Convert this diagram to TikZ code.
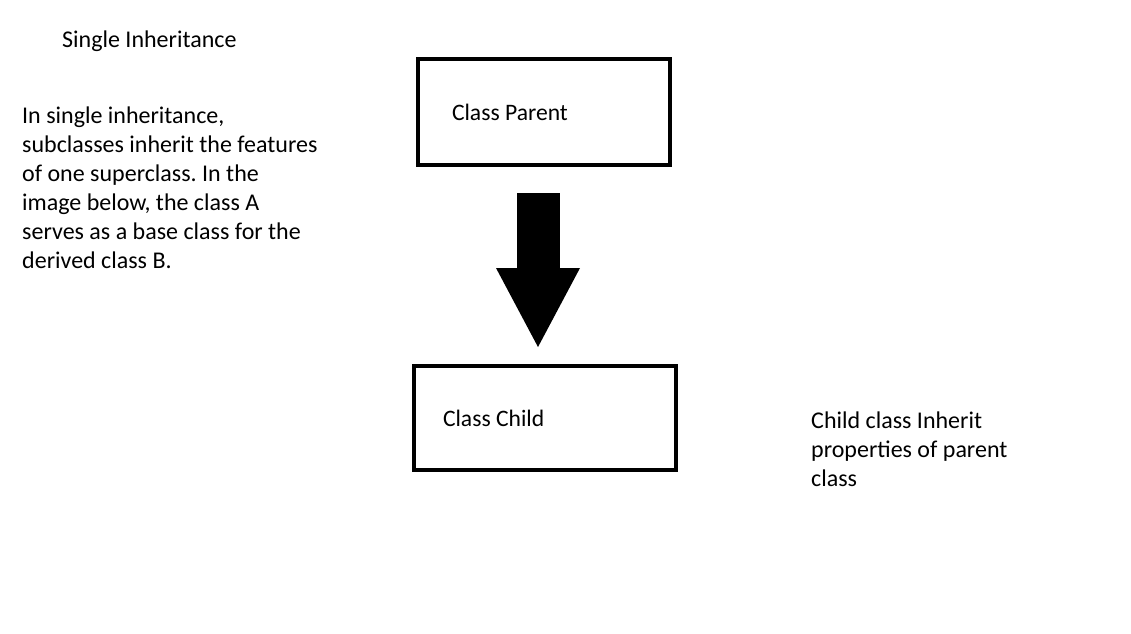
\documentclass[tikz,border=0pt]{standalone}
\usepackage{fontspec}
\setmainfont{Carlito}
\usetikzlibrary{arrows.meta}
\pgfdeclarelayer{edgelayer}
\pgfdeclarelayer{nodelayer}
\pgfsetlayers{edgelayer,nodelayer,main}
\frenchspacing
\tikzstyle{class_box}=[rectangle,fill=white,draw=black,line width=4pt,align=flush left,minimum height=106pt,font=\fontsize{23.6}{29}\selectfont]
\tikzstyle{plain_text}=[inner sep=0pt,align=left,font=\fontsize{24}{29}\selectfont]
\tikzstyle{inheritance}=[-{Triangle[width=84pt,length=79pt,line width=0pt]},draw=black,line width=43pt]

\begin{document}
\begin{tikzpicture}[x=1pt,y=-1pt]
	\useasboundingbox (0,0) rectangle (1131,633);
	\begin{pgfonlayer}{nodelayer}
		\node [style={plain_text}, anchor=west] (0) at (62, 41) {Single Inheritance};
		\node [style={plain_text}, anchor=north west] (1) at (22, 107) {In single inheritance,\\subclasses inherit the features\\of one superclass. In the\\image below, the class A\\serves as a base class for the\\derived class B.};
		\node [style={class_box}, text width=184pt, inner xsep=34pt] (2) at (544, 112) {Class Parent};
		\node [style={class_box}, text width=204pt, inner xsep=29pt, minimum height=104pt] (3) at (545, 418) {Class Child};
		\node [style={plain_text}, anchor=north west] (4) at (811, 412) {Child class Inherit\\properties of parent\\class};
	\end{pgfonlayer}
	\begin{pgfonlayer}{edgelayer}
		\draw [style=inheritance, shorten <=26pt, shorten >=17pt] ([xshift=-6pt]2.south) to ([xshift=-7pt]3.north);
	\end{pgfonlayer}
\end{tikzpicture}
\end{document}
